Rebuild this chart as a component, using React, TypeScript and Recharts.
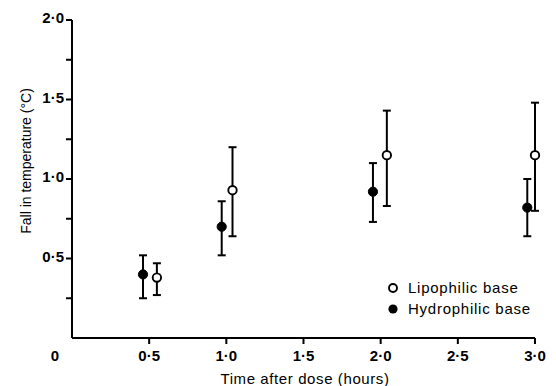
import React from 'react';
import { ScatterChart, Scatter, XAxis, YAxis, ErrorBar, Legend } from 'recharts';

// Hydrophilic base (filled)
const hydroX = [0.46, 0.97, 1.95, 2.95];
const hydroY = [0.40, 0.70, 0.92, 0.82];
const hydroLow = [0.25, 0.52, 0.73, 0.64];
const hydroHigh = [0.52, 0.86, 1.10, 1.00];

// Lipophilic base (open)
const lipoX = [0.55, 1.04, 2.04, 3.0];
const lipoY = [0.38, 0.93, 1.15, 1.15];
const lipoLow = [0.27, 0.64, 0.83, 0.80];
const lipoHigh = [0.47, 1.20, 1.43, 1.48];

const xTicks = [0, 0.5, 1.0, 1.5, 2.0, 2.5, 3.0];
const yTicks = [0.25, 0.5, 0.75, 1.0, 1.25, 1.5, 1.75, 2.0];

const build = (xs: number[], ys: number[], lo: number[], hi: number[]) =>
  xs.map((x, i) => ({ x, y: ys[i], err: [ys[i] - lo[i], hi[i] - ys[i]] }));

const hydroData = build(hydroX, hydroY, hydroLow, hydroHigh);
const lipoData = build(lipoX, lipoY, lipoLow, lipoHigh);

const fmt = (v: number) => (v === 0 ? '0' : v.toFixed(1).replace('.', '·'));
const FONT = '"Liberation Sans", Arial, Helvetica, sans-serif';

const XTick = (props: any) => {
  const { x, y, payload } = props;
  const v = payload.value;
  const axisY = y - 8;
  return (
    <g>
      {v !== 0 && <line x1={x} y1={axisY} x2={x} y2={axisY + 6} stroke="#000" strokeWidth={2} />}
      <text x={v === 0 ? x - 17 : x} y={y + 4} dy="0.71em" textAnchor="middle" fontFamily={FONT} fontSize={15} fontWeight="bold" fill="#000">
        {fmt(v)}
      </text>
    </g>
  );
};

const YTick = (props: any) => {
  const { x, y, payload } = props;
  const v = payload.value;
  const major = Math.abs(v * 2 - Math.round(v * 2)) < 1e-6;
  if (!major) return <g />;
  return (
    <text x={x} y={y - 2} dy="0.355em" textAnchor="end" fontFamily={FONT} fontSize={15} fontWeight="bold" fill="#000">
      {fmt(v)}
    </text>
  );
};

const Filled = (p: any) => <circle cx={p.cx} cy={p.cy} r={4.6} fill="#000" stroke="#000" strokeWidth={1} />;
const Open = (p: any) => <circle cx={p.cx} cy={p.cy} r={4.2} fill="#fff" stroke="#000" strokeWidth={1.9} />;

const LegendContent = () => (
  <div style={{ fontFamily: FONT, fontSize: 15, letterSpacing: 0.75, color: '#000', lineHeight: '21px' }}>
    <div style={{ display: 'flex', alignItems: 'center' }}>
      <svg width={21} height={12}><circle cx={6} cy={6} r={4} fill="#fff" stroke="#000" strokeWidth={1.9} /></svg>
      <span>Lipophilic base</span>
    </div>
    <div style={{ display: 'flex', alignItems: 'center' }}>
      <svg width={21} height={12}><circle cx={6} cy={6} r={4.6} fill="#000" /></svg>
      <span>Hydrophilic base</span>
    </div>
  </div>
);

export default function App() {
  return (
    <div style={{ position: 'absolute', left: 0, top: 0, width: 556, height: 386, background: '#fff' }}>
      <ScatterChart width={556} height={386} margin={{ top: 20, right: 21, bottom: 18, left: 0 }}>
        <XAxis
          type="number"
          dataKey="x"
          domain={[0, 3]}
          ticks={xTicks}
          interval={0}
          tick={<XTick />}
          tickLine={false}
          tickSize={6}
          tickMargin={2}
          axisLine={{ stroke: '#000', strokeWidth: 2 }}
          height={30}
        />
        <YAxis
          type="number"
          dataKey="y"
          domain={[0, 2]}
          ticks={yTicks}
          interval={0}
          tick={<YTick />}
          tickLine={{ stroke: '#000', strokeWidth: 2 }}
          tickSize={6}
          tickMargin={2}
          axisLine={{ stroke: '#000', strokeWidth: 2 }}
          width={72}
        />
        <Legend
          layout="vertical"
          verticalAlign="middle"
          align="center"
          content={<LegendContent />}
          wrapperStyle={{ position: 'absolute', left: 387, top: 277, width: 168 }}
        />
        <Scatter name="Hydrophilic base" data={hydroData} shape={<Filled />} isAnimationActive={false}>
          <ErrorBar dataKey="err" direction="y" width={4} stroke="#000" strokeWidth={2} />
        </Scatter>
        <Scatter name="Lipophilic base" data={lipoData} shape={<Open />} isAnimationActive={false}>
          <ErrorBar dataKey="err" direction="y" width={4} stroke="#000" strokeWidth={2} />
        </Scatter>
      </ScatterChart>
      <svg width={556} height={386} style={{ position: 'absolute', left: 0, top: 0, pointerEvents: 'none' }}>
        <text x={26} y={161} transform="rotate(-90 26 161)" textAnchor="middle" dominantBaseline="central" fontFamily={FONT} fontSize={14} fill="#000">
          Fall in temperature (°C)
        </text>
        <text x={305} y={378} textAnchor="middle" dominantBaseline="central" fontFamily={FONT} fontSize={15} letterSpacing={0.6} fill="#000">
          Time after dose (hours)
        </text>
      </svg>
    </div>
  );
}
